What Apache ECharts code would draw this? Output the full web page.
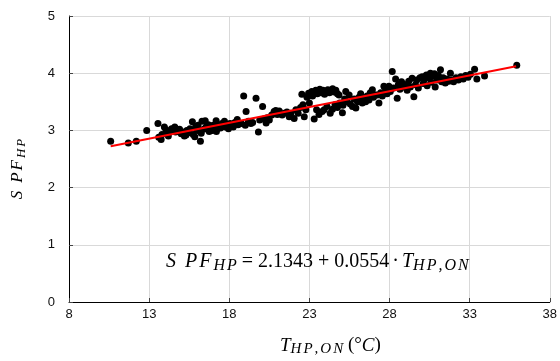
<!DOCTYPE html>
<html>
<head>
<meta charset="utf-8">
<script src="https://cdn.jsdelivr.net/npm/echarts@6/dist/echarts.min.js"></script>
<style>html,body{margin:0;padding:0;background:#fff;}#c{width:560px;height:361px;}</style>
</head>
<body>
<div id="c"></div>
<script>
// Measured points: [T_HP,ON (°C), SPF_HP]
const points = [
  [10.6,2.81],[11.7,2.78],[12.2,2.81],[12.85,3.00],
  [13.55,3.12],[13.6,2.88],[13.75,2.84],[13.8,2.93],[13.95,3.06],[14.05,3.01],[14.1,2.95],[14.2,2.90],[14.3,2.98],[14.4,3.03],[14.6,3.06],[14.65,2.97],[14.8,2.99],[14.9,3.02],[15.0,2.94],
  [15.1,2.97],[15.2,2.90],[15.3,2.92],[15.35,3.00],[15.45,2.96],[15.55,3.03],[15.7,3.15],[15.75,2.93],[15.85,2.89],[15.9,3.06],[16.0,3.00],[16.05,3.09],[16.2,2.81],[16.25,2.95],[16.3,3.16],[16.4,3.02],[16.5,3.17],[16.55,3.06],
  [16.7,3.10],[16.75,2.98],[16.85,3.03],[16.95,3.00],[17.0,3.09],[17.1,3.04],[17.18,3.17],[17.2,2.98],[17.3,3.07],[17.45,3.04],[17.55,3.12],[17.7,3.16],[17.75,3.06],[17.85,3.09],[17.95,3.03],[18.05,3.12],[18.15,3.09],[18.25,3.06],[18.35,3.14],[18.5,3.19],[18.55,3.10],
  [18.9,3.60],[19.05,3.33],[18.75,3.12],[19.0,3.09],[19.2,3.16],[19.35,3.12],[19.46,3.14],[19.67,3.56],[19.82,2.97],[19.9,3.18],[20.08,3.42],[20.15,3.20],[20.3,3.13],[20.37,3.22],[20.5,3.18],[20.65,3.27],[20.8,3.33],[20.9,3.35],[21.0,3.28],[21.12,3.34],[21.3,3.27],[21.43,3.30],[21.6,3.32],[21.74,3.24],[21.85,3.30],
  [22.05,3.21],[22.16,3.36],[22.3,3.30],[22.45,3.40],[22.53,3.63],[22.6,3.45],[22.68,3.24],[22.78,3.36],[22.85,3.58],[22.95,3.65],[23.0,3.48],[23.05,3.62],
  [23.15,3.68],[23.2,3.60],[23.3,3.66],[23.4,3.70],[23.5,3.64],[23.55,3.68],[23.65,3.72],[23.75,3.66],[23.85,3.70],[23.95,3.63],[24.05,3.68],[24.15,3.71],[24.25,3.66],[24.35,3.69],[24.45,3.73],[24.55,3.67],[24.65,3.70],[24.75,3.64],[24.85,3.62],
  [23.3,3.20],[23.45,3.36],[23.6,3.28],[23.8,3.33],[23.92,3.36],[24.1,3.42],[24.3,3.30],[24.44,3.37],[24.6,3.45],[24.75,3.40],[24.9,3.48],[25.06,3.31],[25.1,3.44],
  [25.2,3.55],[25.27,3.68],[25.35,3.50],[25.48,3.62],[25.55,3.46],[25.69,3.42],[25.8,3.55],[25.9,3.39],[26.0,3.50],[26.1,3.58],[26.2,3.64],[26.3,3.48],[26.4,3.55],[26.51,3.50],[26.6,3.60],[26.72,3.53],[26.8,3.66],[26.93,3.71],[27.0,3.58],[27.1,3.62],[27.24,3.62],[27.34,3.48],[27.45,3.66],[27.55,3.60],[27.65,3.77],
  [27.75,3.70],[27.85,3.64],[27.96,3.77],[28.05,3.68],[28.17,4.03],[28.25,3.74],[28.38,3.90],[28.48,3.56],[28.55,3.80],[28.65,3.72],[28.75,3.85],[28.85,3.76],[29.0,3.80],[29.1,3.70],[29.2,3.86],[29.3,3.76],[29.41,3.91],[29.52,3.59],[29.62,3.80],[29.7,3.88],[29.8,3.74],[29.9,3.92],
  [30.04,3.94],[30.1,3.82],[30.2,3.90],[30.3,3.97],[30.35,3.78],[30.45,3.92],[30.55,4.00],[30.6,3.84],[30.7,3.95],[30.8,3.99],[30.85,3.76],[30.95,3.88],[31.05,3.96],[31.18,4.06],[31.25,3.85],[31.35,3.92],[31.48,3.83],[31.6,3.90],[31.7,3.86],[31.8,4.00],[31.9,3.88],[32.0,3.85],
  [32.15,3.92],[32.3,3.88],[32.45,3.94],[32.6,3.90],[32.75,3.96],[32.9,3.93],[33.05,3.98],[33.31,4.07],[33.45,3.90],[33.93,3.95],[35.94,4.14]
];
// Fitted line SPF = 2.1343 + 0.0554 * T, drawn between these ends
const fitLine = [[10.6, 2.7215], [35.9, 4.1232]];
const xTicks = { min: 8, max: 38, interval: 5 };
const yTicks = { min: 0, max: 5, interval: 1 };

const serif = 'Liberation Serif, Times New Roman, serif';
const sans = 'Liberation Sans, Arial, sans-serif';

function richSet(main, sub, lh, sublh) {
  const base = { fontFamily: serif, fill: '#000' };
  return {
    i: Object.assign({}, base, { fontStyle: 'italic', fontSize: main, lineHeight: lh }),
    iS: Object.assign({}, base, { fontStyle: 'italic', fontSize: main, lineHeight: lh, padding: [0, Math.round(main * 0.45), 0, 0] }),
    iP: Object.assign({}, base, { fontStyle: 'italic', fontSize: main, lineHeight: lh, padding: [0, 2, 0, 0] }),
    n: Object.assign({}, base, { fontSize: main, lineHeight: lh }),
    d: Object.assign({}, base, { fontSize: main, lineHeight: lh, padding: [0, 3, 0, 3] }),
    s: Object.assign({}, base, { fontStyle: 'italic', fontSize: sub, lineHeight: sublh, verticalAlign: 'bottom' }),
    sp: Object.assign({}, base, { fontStyle: 'italic', fontSize: sub, lineHeight: sublh, verticalAlign: 'bottom', padding: [0, 2, 0, 0] })
  };
}

const chart = echarts.init(document.getElementById('c'), null, { renderer: 'canvas' });
chart.setOption({
  animation: false,
  backgroundColor: '#fff',
  grid: { left: 69, right: 9, top: 16, bottom: 59, containLabel: false },
  xAxis: {
    type: 'value', min: xTicks.min, max: xTicks.max, interval: xTicks.interval,
    axisLine: { show: true, lineStyle: { color: '#000', width: 1 } },
    axisTick: { show: true, inside: true, length: 4, lineStyle: { color: '#444', width: 1 } },
    axisLabel: { color: '#111', fontFamily: sans, fontSize: 13, margin: 6 },
    splitLine: { show: true, lineStyle: { color: '#d9d9d9', width: 1 } }
  },
  yAxis: {
    type: 'value', min: yTicks.min, max: yTicks.max, interval: yTicks.interval,
    axisLine: { show: true, lineStyle: { color: '#000', width: 1 } },
    axisTick: { show: true, inside: true, length: 4, lineStyle: { color: '#444', width: 1 } },
    axisLabel: { color: '#111', fontFamily: sans, fontSize: 13, margin: 14 },
    splitLine: { show: true, lineStyle: { color: '#d9d9d9', width: 1 } }
  },
  series: [
    {
      type: 'scatter', data: points, symbol: 'circle', symbolSize: 7,
      itemStyle: { color: '#000', opacity: 1 }, z: 2
    },
    {
      type: 'line', data: fitLine, symbol: 'none',
      lineStyle: { color: '#ff0000', width: 2 }, z: 3
    }
  ],
  graphic: [
    {
      type: 'text', left: 166, top: 252, z: 10,
      style: {
        text: '{iS|S}{iP|P}{iP|F}{sp|H}{s|P}{n| = 2.1343 + 0.0554}{d|·}{i|T}{sp|H}{sp|P}{sp|,}{sp|O}{s|N}',
        rich: richSet(20, 16, 24, 15)
      }
    },
    {
      type: 'text', left: 280, top: 336, z: 10,
      style: {
        text: '{i|T}{sp|H}{sp|P}{sp|,}{sp|O}{s|N}{n| (°}{i|C}{n|)}',
        rich: richSet(19, 15, 23, 14)
      }
    },
    {
      type: 'text', x: 18, y: 169, rotation: Math.PI / 2, z: 10,
      style: {
        text: '{iS|S}{iP|P}{iP|F}{sp|H}{s|P}',
        align: 'center', verticalAlign: 'middle',
        rich: richSet(17, 13, 21, 13)
      }
    }
  ]
});
</script>
</body>
</html>
